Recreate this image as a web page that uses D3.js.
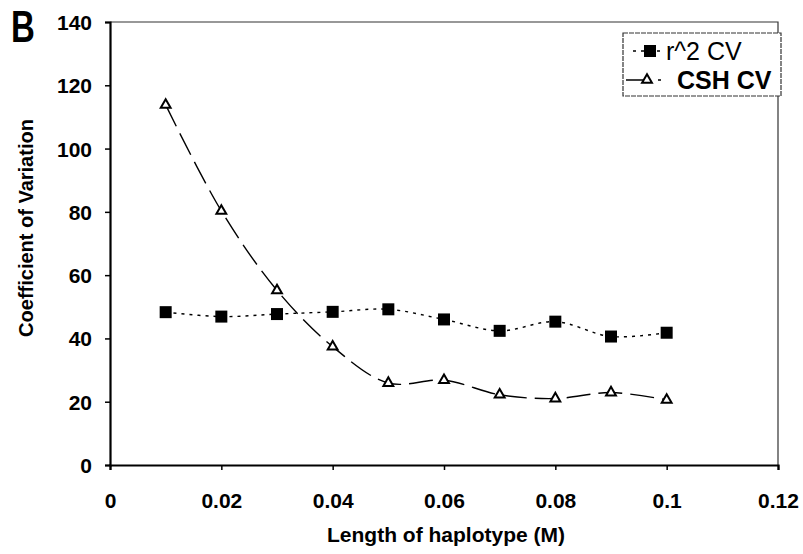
<!DOCTYPE html>
<html>
<head>
<meta charset="utf-8">
<script src="https://cdn.jsdelivr.net/npm/d3@7"></script>
<style>
  body { margin: 0; background: #fff; }
  text { font-family: "Liberation Sans", Arial, sans-serif; }
</style>
</head>
<body>
<svg id="chart" width="803" height="554"></svg>
<script>
// data
var lengths = [0.01, 0.02, 0.03, 0.04, 0.05, 0.06, 0.07, 0.08, 0.09, 0.1];
var r2CV = [48.3, 46.9, 47.7, 48.4, 49.2, 46, 42.4, 45.3, 40.6, 41.8];
var cshCV = [113.8, 80.3, 55.2, 37.4, 25.9, 26.8, 22.2, 21, 22.9, 20.6];
var xTicks = [0, 0.02, 0.04, 0.06, 0.08, 0.1, 0.12];
var yTicks = [0, 20, 40, 60, 80, 100, 120, 140];
var seriesNames = ["r^2 CV", "CSH CV"];

var margin = {top: 22, right: 25, bottom: 89, left: 110};
var width = 803 - margin.left - margin.right;
var height = 554 - margin.top - margin.bottom;

var svg = d3.select("#chart");
var g = svg.append("g").attr("transform", "translate(" + margin.left + "," + margin.top + ")");

var xs = d3.scaleLinear().domain([0, 0.12]).range([0, width]);
var ys = d3.scaleLinear().domain([0, 140]).range([height, 0]);

// frame (top and right)
g.append("path")
  .attr("d", "M0,0H" + width + "V" + height)
  .attr("fill", "none")
  .attr("stroke", "#333")
  .attr("stroke-width", 1.2);

// axes
var yAxis = g.append("g")
  .call(d3.axisLeft(ys).tickValues(yTicks).tickSize(5).tickFormat(d3.format("d")));
var xAxis = g.append("g")
  .attr("transform", "translate(0," + height + ")")
  .call(d3.axisBottom(xs).tickValues(xTicks).tickSize(5).tickFormat(function(d) { return d3.format("~g")(d); }));

[yAxis, xAxis].forEach(function(a) {
  a.select(".domain").attr("stroke", "#000").attr("stroke-width", 2.2);
  a.selectAll(".tick line").attr("stroke", "#000").attr("stroke-width", 1.5);
  a.selectAll(".tick text")
    .attr("font-size", "21px")
    .attr("font-weight", "bold")
    .attr("fill", "#000");
});
yAxis.selectAll(".tick text").attr("x", -18).attr("dy", "0.36em");
xAxis.selectAll(".tick text").attr("y", 28).attr("dy", "0.71em").attr("dy", null)
  .attr("dominant-baseline", "auto").attr("y", 43);

// lines
var line1 = d3.line()
  .x(function(d, i) { return xs(lengths[i]); })
  .y(function(d) { return ys(d); })
  .curve(d3.curveCatmullRom.alpha(0.5));

g.append("path")
  .datum(r2CV)
  .attr("fill", "none")
  .attr("stroke", "#000")
  .attr("stroke-width", 1.4)
  .attr("stroke-dasharray", "3,5")
  .attr("d", line1);

g.append("path")
  .datum(cshCV)
  .attr("fill", "none")
  .attr("stroke", "#000")
  .attr("stroke-width", 1.4)
  .attr("stroke-dasharray", "24,8")
  .attr("d", line1);

// square markers
g.selectAll(".sq")
  .data(r2CV)
  .enter().append("rect")
  .attr("x", function(d, i) { return xs(lengths[i]) - 6; })
  .attr("y", function(d) { return ys(d) - 6; })
  .attr("width", 12)
  .attr("height", 12)
  .attr("fill", "#000");

// triangle markers
var tri = d3.symbol().type(d3.symbolTriangle).size(42);
g.selectAll(".tri")
  .data(cshCV)
  .enter().append("path")
  .attr("d", tri)
  .attr("transform", function(d, i) { return "translate(" + xs(lengths[i]) + "," + ys(d) + ")"; })
  .attr("fill", "#fff")
  .attr("stroke", "#000")
  .attr("stroke-width", 2);

// axis titles
svg.append("text")
  .attr("x", 446)
  .attr("y", 542)
  .attr("text-anchor", "middle")
  .attr("font-size", "21px")
  .attr("font-weight", "bold")
  .text("Length of haplotype (M)");

svg.append("text")
  .attr("transform", "translate(33,228) rotate(-90)")
  .attr("text-anchor", "middle")
  .attr("font-size", "20px")
  .attr("font-weight", "bold")
  .text("Coefficient of Variation");

// panel letter
svg.append("text")
  .attr("transform", "translate(11,42) scale(0.75,1)")
  .attr("font-size", "44px")
  .attr("font-weight", "bold")
  .text("B");

// legend
var leg = svg.append("g").attr("transform", "translate(623,33)");
leg.append("rect")
  .attr("width", 158)
  .attr("height", 63)
  .attr("fill", "#fff")
  .attr("stroke", "#333")
  .attr("stroke-width", 1.2)
  .attr("stroke-dasharray", "5,1");

seriesNames.forEach(function(name, i) {
  var yy = 18 + i * 29;
  leg.append("line")
    .attr("x1", i === 0 ? 10 : 3).attr("x2", i === 0 ? 40 : 38)
    .attr("y1", yy).attr("y2", yy)
    .attr("stroke", "#000")
    .attr("stroke-width", 1.4)
    .attr("stroke-dasharray", i === 0 ? "3,5" : "24,8");
  if (i === 0) {
    leg.append("rect")
      .attr("x", 21).attr("y", yy - 6)
      .attr("width", 12).attr("height", 12)
      .attr("fill", "#000");
  } else {
    leg.append("path")
      .attr("d", tri)
      .attr("transform", "translate(24," + yy + ")")
      .attr("fill", "#fff")
      .attr("stroke", "#000")
      .attr("stroke-width", 2);
  }
  leg.append("text")
    .attr("x", i === 0 ? 43 : 54)
    .attr("y", yy + 9)
    .attr("font-size", "25px")
    .attr("font-weight", i === 0 ? "normal" : "bold")
    .text(name);
});
</script>
</body>
</html>
